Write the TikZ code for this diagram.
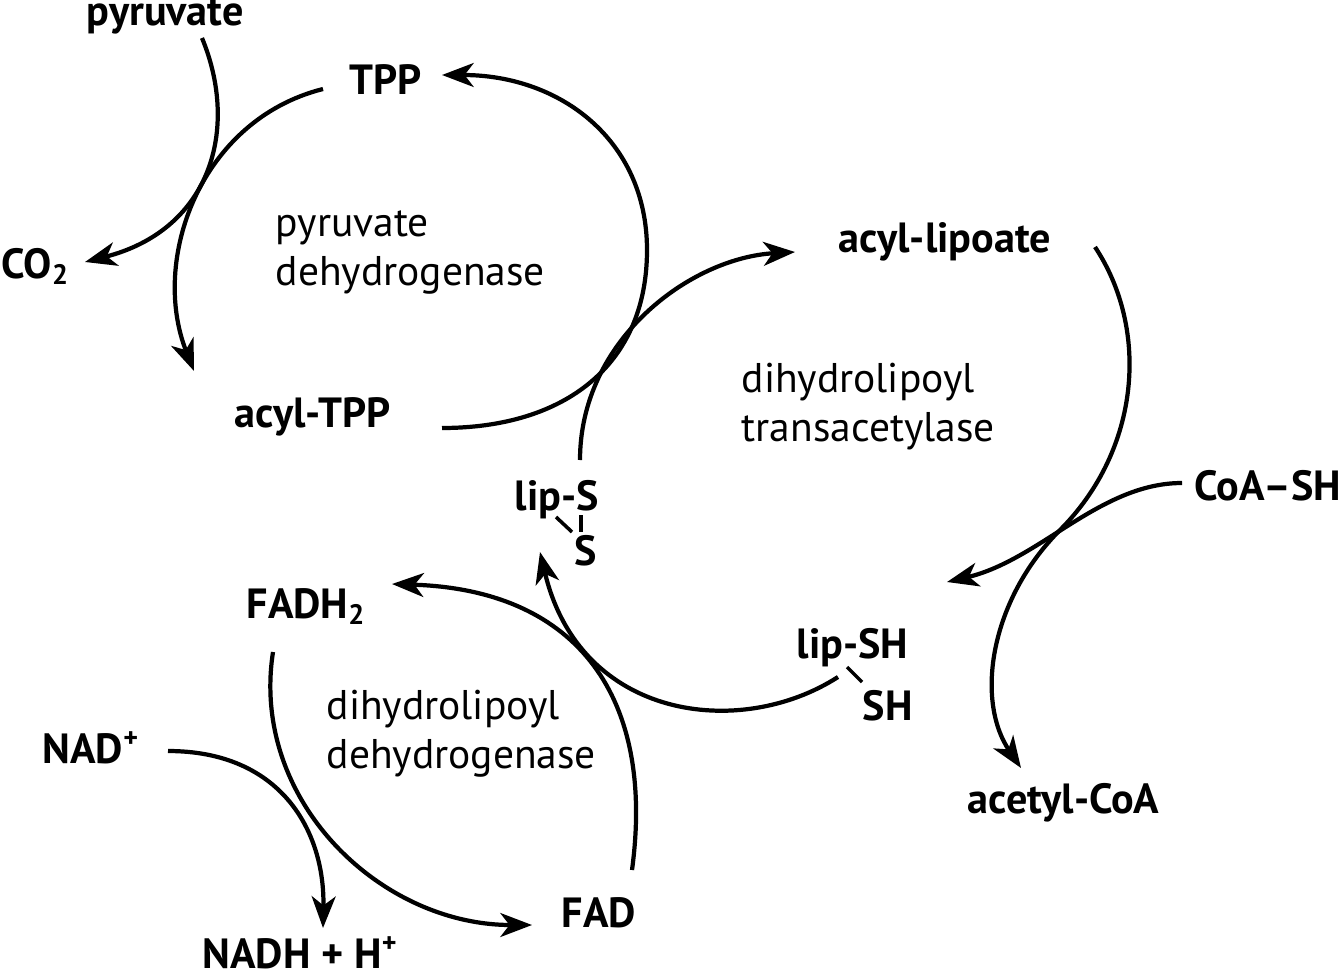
\documentclass[tikz,border=0pt]{standalone}
\usepackage{fontspec}
\setmainfont{PT Sans}
\usetikzlibrary{arrows.meta}

\begin{document}
\begin{tikzpicture}[x=0.01cm, y=-0.01cm,
    chem/.style={font=\fontsize{12pt}{13.7pt}\selectfont\bfseries, inner sep=0pt, anchor=base west},
    enzyme/.style={font=\fontsize{11.8pt}{13.7pt}\selectfont, align=left, inner sep=0pt, anchor=base west},
    rxn/.style={-{Stealth[length=9pt, width=6.8pt, inset=2.6pt]}, line width=1.2pt},
    bond/.style={line width=1pt}]
    \useasboundingbox (0,0) rectangle (1340,979);

    % compounds
    \node (pyruvate) at (86,26) [chem] {pyruvate};
    \node (TPP) at (349,95) [chem] {TPP};
    \node (CO2) at (1,278) [chem] {CO\textsubscript{2}};
    \node (acylTPP) at (234,427) [chem] {acyl-TPP};
    \node (acyllip) at (838,252) [chem] {acyl-lipoate};
    \node (CoASH) at (1194,500) [chem] {CoA--SH};
    \node (lipS) at (514,510) [chem] {lip-S};
    \node (S) at (574,565) [chem] {S};
    \node (lipSH) at (796,658) [chem] {lip-SH};
    \node (SH) at (862,720) [chem] {SH};
    \node (acetylCoA) at (967,813) [chem] {acetyl-CoA};
    \node (FADH2) at (246,618) [chem] {FADH\textsubscript{2}};
    \node (NAD) at (42,763) [chem] {NAD\textsuperscript{+}};
    \node (NADH) at (202,968) [chem] {NADH + H\textsuperscript{+}};
    \node (FAD) at (561,927) [chem] {FAD};

    % enzymes
    \node (pdh) at (275,285) [enzyme] {pyruvate\\dehydrogenase};
    \node (dlt) at (741,441) [enzyme] {dihydrolipoyl\\transacetylase};
    \node (dld) at (326,768) [enzyme] {dihydrolipoyl\\dehydrogenase};

    % disulfide bonds
    \coordinate (lipS-a) at (581,515);
    \coordinate (lipS-b) at (581,532);
    \coordinate (lipS-c) at (556,517);
    \coordinate (lipS-d) at (572,532);
    \coordinate (lipSH-a) at (847,667);
    \coordinate (lipSH-b) at (862,682);
    \draw [bond] (lipS-a)--(lipS-b);
    \draw [bond] (lipS-c)--(lipS-d);
    \draw [bond] (lipSH-a)--(lipSH-b);

    % pyruvate dehydrogenase
    \coordinate (pyr-out) at (202,38);
    \coordinate (co2-in) at (85,262);
    \coordinate (tpp-out) at (323,89);
    \coordinate (acyltpp-in) at (194,371);
    \coordinate (acyltpp-out) at (442,428);
    \coordinate (rim1) at (647,250);
    \coordinate (tpp-in) at (442,75);
    \draw [rxn] (pyr-out) .. controls (240,130) and (210,230) .. (co2-in);
    \draw [rxn] (tpp-out) .. controls (200,120) and (150,260) .. (acyltpp-in);
    \draw [rxn] (acyltpp-out) .. controls (565,428) and (647,365) .. (rim1)
        .. controls (647,140) and (560,75) .. (tpp-in);

    % dihydrolipoyl transacetylase
    \coordinate (lipS-out) at (580,460);
    \coordinate (acyllip-in) at (795,252);
    \coordinate (acyllip-out) at (1095,247);
    \coordinate (rim2) at (1060,530);
    \coordinate (acetyl-in) at (1021,768);
    \coordinate (coa-out) at (1182,483);
    \coordinate (lipSH-in) at (947,582);
    \draw [rxn] (lipS-out) .. controls (580,340) and (690,258) .. (acyllip-in);
    \draw [rxn] (acyllip-out) .. controls (1150,330) and (1140,450) .. (rim2)
        .. controls (990,600) and (975,700) .. (acetyl-in);
    \draw [rxn] (coa-out) .. controls (1100,483) and (1040,560) .. (lipSH-in);

    % dihydrolipoyl dehydrogenase
    \coordinate (lipSH-out) at (838,677);
    \coordinate (lipS-in) at (540,552);
    \coordinate (fad-out) at (632,870);
    \coordinate (fadh2-in) at (392,584);
    \coordinate (fadh2-out) at (273,652);
    \coordinate (fad-in) at (532,925);
    \coordinate (nad-out) at (168,751);
    \coordinate (nadh-in) at (323,928);
    \draw [rxn] (lipSH-out) .. controls (740,740) and (580,720) .. (lipS-in);
    \draw [rxn] (fad-out) .. controls (655,700) and (580,590) .. (fadh2-in);
    \draw [rxn] (fadh2-out) .. controls (250,800) and (380,925) .. (fad-in);
    \draw [rxn] (nad-out) .. controls (280,751) and (325,830) .. (nadh-in);
\end{tikzpicture}
\end{document}
